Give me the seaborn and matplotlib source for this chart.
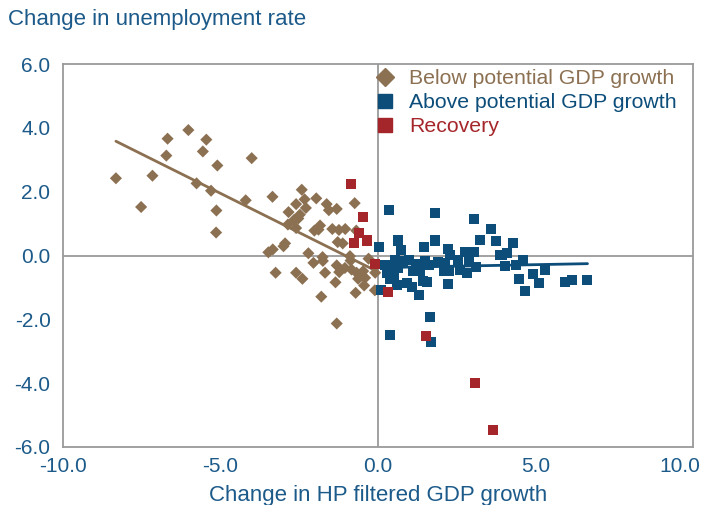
import numpy as np
import pandas as pd
import matplotlib
matplotlib.use("Agg")
import matplotlib.pyplot as plt
import matplotlib.transforms as mtransforms
import seaborn as sns
from matplotlib.lines import Line2D

# Quarters with GDP growth below potential
below_x = [-6.68, -6.02, -5.45, -6.72, -5.56, -5.10, -8.32, -7.16, -5.76, -5.30,
           -4.20, -7.52, -5.13, -4.01, -5.14, -3.35, -2.42, -2.33, -1.96, -2.60,
           -2.29, -1.63, -1.56, -1.31, -0.74, -2.84, -2.48, -2.53, -2.66, -2.86,
           -2.60, -1.84, -1.89, -2.02, -1.45, -1.24, -1.04, -0.69, -1.28, -1.12,
           -2.95, -3.00, -3.34, -3.48, -2.21, -1.76, -1.75, -2.05, -0.89, -0.87,
           -0.30, -1.31, -1.05, -1.23, -0.84, -0.68, -0.53, -0.41, -0.63, -0.09,
           -0.47, -3.25, -2.60, -2.40, -1.68, -1.35, -0.44, -0.71, -0.10, -1.80,
           -1.31]
below_y = [3.66, 3.93, 3.63, 3.13, 3.26, 2.82, 2.42, 2.50, 2.26, 2.03,
           1.73, 1.52, 1.41, 3.05, 0.72, 1.84, 2.06, 1.76, 1.79, 1.61,
           1.49, 1.61, 1.42, 1.46, 1.64, 1.36, 1.28, 1.16, 1.12, 0.97,
           0.86, 0.94, 0.81, 0.78, 0.83, 0.80, 0.83, 0.78, 0.42, 0.38,
           0.38, 0.29, 0.19, 0.10, 0.07, -0.05, -0.17, -0.23, -0.02, -0.16,
           -0.10, -0.31, -0.39, -0.52, -0.44, -0.54, -0.63, -0.70, -0.73, -0.54,
           -0.49, -0.54, -0.54, -0.73, -0.54, -0.84, -0.94, -1.17, -1.09, -1.29,
           -2.13]

# Quarters with GDP growth above potential
above_x = [0.36, 1.80, 3.05, 3.60, 0.03, 0.63, 1.80, 1.47, 3.25, 3.74,
           4.30, 0.72, 2.21, 2.29, 2.76, 3.06, 3.87, 4.10, 0.54, 0.80,
           0.98, 1.21, 1.50, 1.61, 1.92, 2.13, 2.55, 2.89, 3.11, 2.60,
           2.24, 2.10, 2.84, 4.04, 4.37, 4.59, 0.38, 0.65, 1.12, 1.33,
           0.38, 0.59, 0.91, 1.07, 1.44, 1.56, 2.23, 4.49, 4.68, 1.31,
           0.10, 1.64, 0.39, 1.67, 3.93, 4.38, 5.30, 4.93, 5.10, 5.93,
           6.15, 6.65, 0.22, 0.30, 0.50]
above_y = [1.44, 1.33, 1.14, 0.83, 0.26, 0.47, 0.47, 0.27, 0.50, 0.44,
           0.38, 0.16, 0.21, 0.03, 0.11, 0.11, 0.03, 0.08, -0.13, -0.18,
           -0.15, -0.28, -0.16, -0.31, -0.21, -0.25, -0.13, -0.18, -0.35, -0.44,
           -0.50, -0.49, -0.54, -0.33, -0.30, -0.15, -0.44, -0.39, -0.49, -0.49,
           -0.73, -0.91, -0.85, -0.99, -0.80, -0.83, -0.88, -0.75, -1.11, -1.24,
           -1.08, -1.93, -2.49, -2.70, 0.03, -0.30, -0.46, -0.57, -0.85, -0.83,
           -0.76, -0.76, -0.30, -0.55, -0.62]

# Recovery quarters
recov_x = [-0.87, -0.47, -0.60, -0.36, -0.76, -0.10, 0.33, 1.51, 3.07, 3.64]
recov_y = [2.23, 1.21, 0.71, 0.47, 0.38, -0.28, -1.15, -2.53, -4.01, -5.46]

x_ticks = [-10, -5, 0, 5, 10]
y_ticks = [-6, -4, -2, 0, 2, 4, 6]

brown = "#8c7052"
blue = "#0c4d7a"
red = "#a5262a"
text_blue = "#1c5a8a"
grey = "#9a9a9a"

sns.set_theme(style="white")
plt.rcParams["font.family"] = ["Liberation Sans", "DejaVu Sans"]

below = pd.DataFrame({"x": below_x, "y": below_y})
above = pd.DataFrame({"x": above_x, "y": above_y})
recov = pd.DataFrame({"x": recov_x, "y": recov_y})

fig = plt.figure(figsize=(7.03, 5.05), dpi=100)
ax = fig.add_axes([63 / 703, 1 - 447 / 505, 630 / 703, 383 / 505])

ax.axhline(0, color=grey, lw=1.3, zorder=1)
ax.axvline(0, color=grey, lw=1.3, zorder=1)

# Linear fits for each regime
sns.regplot(data=below, x="x", y="y", ax=ax, ci=None, scatter=False,
            line_kws=dict(color=brown, lw=2), truncate=True)
sns.regplot(data=above, x="x", y="y", ax=ax, ci=None, scatter=False,
            line_kws=dict(color=blue, lw=2), truncate=True)

sns.scatterplot(data=below, x="x", y="y", ax=ax, marker="D", s=38,
                color=brown, edgecolor="none", zorder=3)
sns.scatterplot(data=above, x="x", y="y", ax=ax, marker="s", s=52,
                color=blue, edgecolor="none", zorder=3)
sns.scatterplot(data=recov, x="x", y="y", ax=ax, marker="s", s=52,
                color=red, edgecolor="none", zorder=4)

ax.set_xlim(-10, 10)
ax.set_ylim(-6, 6)
ax.set_xticks(x_ticks)
ax.set_yticks(y_ticks)
ax.set_xticklabels([f"{v:.1f}" for v in x_ticks])
ax.set_yticklabels([f"{v:.1f}" for v in y_ticks])
ax.tick_params(axis="both", direction="in", length=6, width=1, color=blue,
               labelsize=15, labelcolor=text_blue)
ax.tick_params(axis="y", pad=9)
ax.tick_params(axis="x", pad=7)
# keep the right-most x label inside the figure
last = ax.get_xticklabels()[-1]
last.set_transform(last.get_transform() +
                   mtransforms.ScaledTranslation(-13 / 100, 0, fig.dpi_scale_trans))
for sp in ax.spines.values():
    sp.set_color(grey)
    sp.set_linewidth(1.3)

ax.set_xlabel("Change in HP filtered GDP growth", fontsize=16,
              color=text_blue, labelpad=7)
ax.set_ylabel("")
fig.text(8 / 703, 1 - 20 / 505, "Change in unemployment rate", fontsize=16,
         color=text_blue, va="center", ha="left")

handles = [
    Line2D([], [], marker="D", ls="none", color=brown, markersize=9),
    Line2D([], [], marker="s", ls="none", color=blue, markersize=10),
    Line2D([], [], marker="s", ls="none", color=red, markersize=10),
]
labels = ["Below potential GDP growth", "Above potential GDP growth", "Recovery"]
leg = ax.legend(handles, labels, loc="upper left",
                bbox_to_anchor=(372 / 703, 1 - 65 / 505),
                bbox_transform=fig.transFigure,
                frameon=False, fontsize=15.3, handlelength=0.8,
                handletextpad=0.75, labelspacing=0.24, borderaxespad=0.0,
                borderpad=0.2)
for txt, c in zip(leg.get_texts(), [brown, blue, red]):
    txt.set_color(c)

fig.savefig("out.png", dpi=100)
